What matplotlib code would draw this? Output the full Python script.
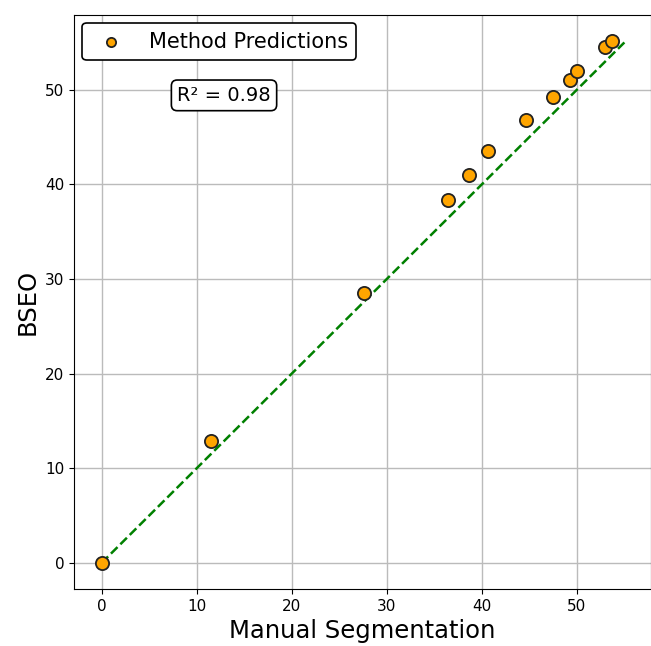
import numpy as np
import matplotlib
matplotlib.use("Agg")
from matplotlib import pyplot as plt

# values
manual = [0.0, 11.5, 27.6, 36.4, 38.7, 40.6, 44.6, 47.5, 49.3, 50.0, 53.0, 53.7]
bseo = [0.0, 12.9, 28.5, 38.4, 41.0, 43.5, 46.8, 49.2, 51.0, 52.0, 54.5, 55.1]
line_x = [0, 55]
line_y = [0, 55]
r2_text = "R² = 0.98"

fig = plt.figure(figsize=(6.51, 6.46), dpi=100)
ax = fig.add_axes([74 / 651, 57 / 646, 577 / 651, 574 / 646])

ax.scatter(manual, bseo, s=90, color="orange", edgecolors="#222222",
           linewidths=1.3, zorder=3, label="Method Predictions")
ax.plot(line_x, line_y, linestyle="--", color="green", linewidth=1.8, zorder=2)

ax.set_xlim(-2.9, 57.8)
ax.set_ylim(-2.75, 57.9)
ax.set_xticks([0, 10, 20, 30, 40, 50])
ax.set_yticks([0, 10, 20, 30, 40, 50])
ax.tick_params(labelsize=11)
ax.grid(True, color="#bbbbbb", linewidth=1)
ax.set_axisbelow(True)

ax.set_xlabel("Manual Segmentation", fontsize=17.5)
ax.set_ylabel("BSEO", fontsize=17.5)

leg = ax.legend(loc="upper left", fontsize=15, frameon=True, fancybox=True,
                edgecolor="black", framealpha=1, markerscale=0.7,
                borderaxespad=0.4)
leg.get_frame().set_linewidth(1.2)

ax.text(0.26, 0.86, r2_text, transform=ax.transAxes, fontsize=14,
        ha="center", va="center",
        bbox=dict(boxstyle="round,pad=0.3", facecolor="white", edgecolor="black", linewidth=1.2))

fig.savefig("out.png", dpi=100)
